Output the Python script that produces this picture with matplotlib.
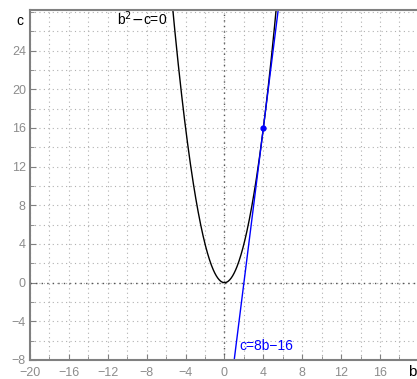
import numpy as np
import matplotlib.pyplot as plt
from matplotlib.ticker import MultipleLocator

plt.rcParams['font.family'] = ['Liberation Sans', 'DejaVu Sans']

# data
b_vals = np.linspace(-6, 6, 241)
c_parab = b_vals ** 2
b_line = np.array([0.5, 6.0])
c_line = 8 * b_line - 16
pt_b = [4]
pt_c = [16]
xticks = [-20, -16, -12, -8, -4, 0, 4, 8, 12, 16]
yticks = [-8, -4, 0, 4, 8, 12, 16, 20, 24]

fig = plt.figure(figsize=(4.17, 3.79), dpi=100)
ax = fig.add_axes([30 / 417, 19 / 379, 387 / 417, 350 / 379])

ax.set_xlim(-20, 19.8)
ax.set_ylim(-8, 28.2)

ax.xaxis.set_minor_locator(MultipleLocator(2))
ax.yaxis.set_minor_locator(MultipleLocator(2))
ax.set_xticks(xticks)
ax.set_yticks(yticks)

ax.grid(True, which='both', color='#b0b0b0', linestyle=(0, (1, 3)), linewidth=0.8)
ax.axhline(0, color='#555555', linestyle=(0, (1, 3)), linewidth=1.0)
ax.axvline(0, color='#555555', linestyle=(0, (1, 3)), linewidth=1.0)

for s in ['left', 'bottom', 'top']:
    ax.spines[s].set_color('#808080')
    ax.spines[s].set_linewidth(1.5)
ax.spines['right'].set_visible(False)

ax.tick_params(which='both', direction='in', color='#808080', labelcolor='#8c8c8c',
               labelsize=9, top=False, right=False)
ax.tick_params(which='major', length=4)
ax.tick_params(which='minor', length=3)
ax.tick_params(axis='x', pad=5)
ax.tick_params(axis='y', pad=3)

ax.plot(b_vals, c_parab, color='black', linewidth=1.0)
ax.plot(b_line, c_line, color='blue', linewidth=1.0)
ax.plot(pt_b, pt_c, 'o', color='blue', markersize=3.5)

ax.text(-5.9, 27.3, r'b$^2$$-$c=0', ha='right', va='center', fontsize=10, color='black')
ax.text(1.5, -6.6, 'c=8b\u221216', ha='left', va='center', fontsize=10, color='blue')

fig.text(20 / 417, 1 - 21 / 379, 'c', ha='center', va='center', fontsize=10)
fig.text(408 / 417, 1 - 372 / 379, 'b', ha='left', va='center', fontsize=11)

fig.savefig('out.png', dpi=100)
